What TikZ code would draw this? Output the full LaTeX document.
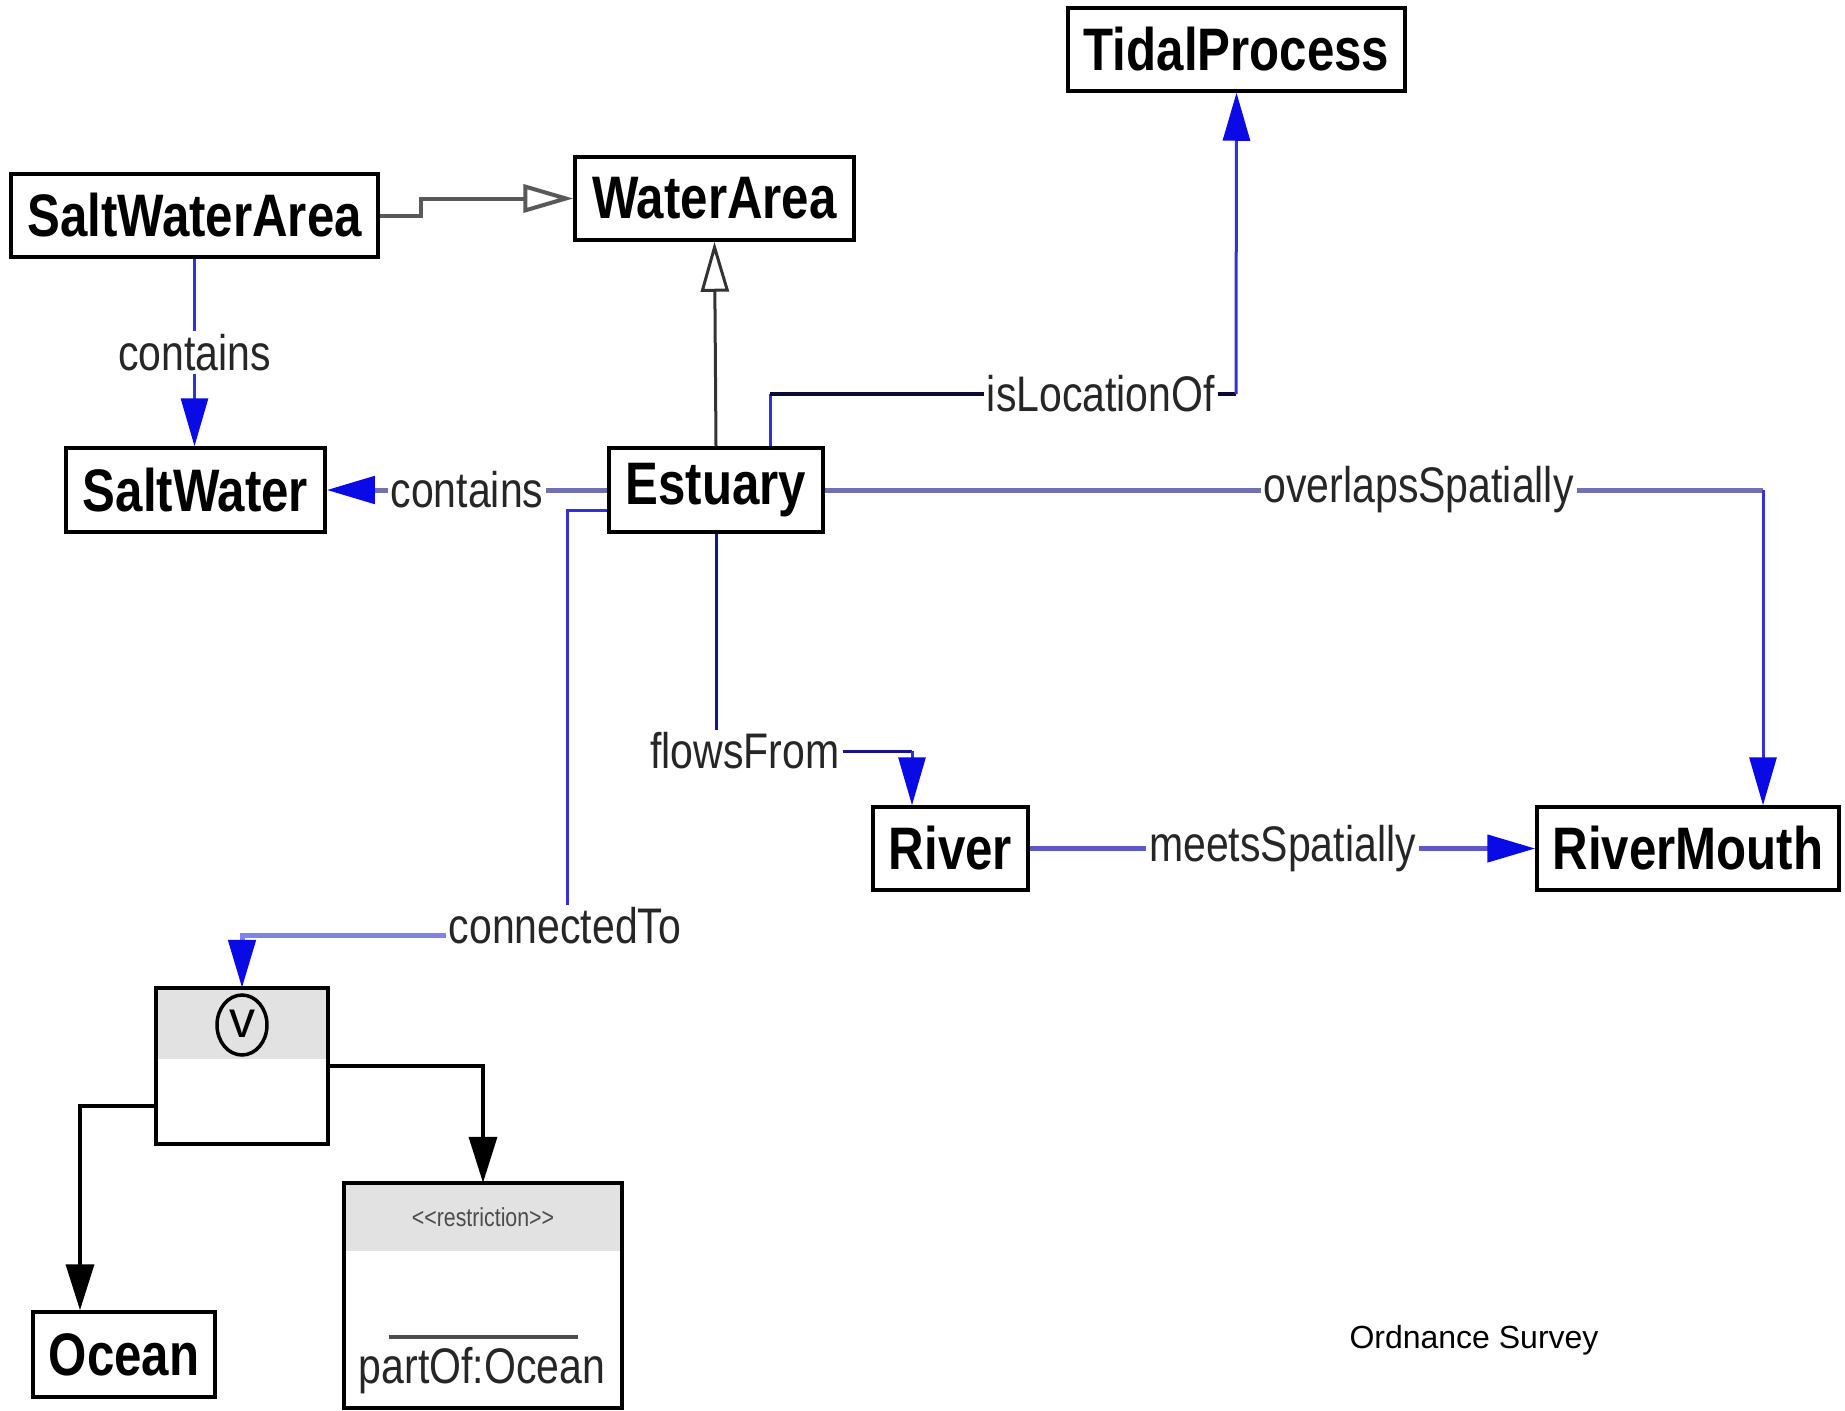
\documentclass[tikz,border=0pt]{standalone}
\usepackage{fontspec}
\newfontfamily\cf[FakeStretch=0.82]{Liberation Sans}
\newfontfamily\af{Liberation Sans}
\usetikzlibrary{arrows.meta,shapes.geometric}
\definecolor{arrblue}{RGB}{10,10,230}
\definecolor{thinblue}{RGB}{50,50,215}
\definecolor{thickpurp}{RGB}{112,112,178}
\definecolor{lilac}{RGB}{128,128,240}
\definecolor{navy}{RGB}{20,20,140}
\definecolor{darknavy}{RGB}{10,10,50}
\definecolor{hdrgray}{RGB}{226,226,226}
\tikzset{
  cls/.style={draw=black, line width=3.5pt, fill=white, inner sep=0pt,
    font=\cf\bfseries\fontsize{60}{60}\selectfont},
  lab/.style={fill=white, inner sep=3pt, text=black!85,
    font=\cf\fontsize{50}{50}\selectfont},
  btip/.style={-{Triangle[length=48pt,width=27pt,color=arrblue]}},
  ktip/.style={-{Triangle[length=46pt,width=28pt,color=black]}},
  otip/.style={-{Triangle[open,length=50pt,width=28pt,fill=white]}},
  thinln/.style={thinblue, line width=3pt},
  thickln/.style={thickpurp, line width=5pt},
}
\begin{document}
\begin{tikzpicture}[x=1pt,y=-1pt]
\useasboundingbox (0,0) rectangle (1845,1411);

% classes
\node[cls, minimum width=337pt, minimum height=83pt] (tidal) at (1236.5,49.5) {TidalProcess};
\node[cls, minimum width=279pt, minimum height=83pt] (water) at (714.5,198.5) {WaterArea};
\node[cls, minimum width=367pt, minimum height=83pt] (swa) at (194.5,215.5) {SaltWaterArea};
\node[cls, minimum width=259pt, minimum height=84pt] (sw) at (195.5,490) {SaltWater};
\node[cls, minimum width=214pt, minimum height=84pt] (est) at (716,490) {Estuary};
\node[cls, minimum width=155pt, minimum height=83pt] (river) at (950.5,848.5) {River};
\node[cls, minimum width=302pt, minimum height=83pt] (rm) at (1688,848.5) {RiverMouth};
\node[cls, minimum width=182pt, minimum height=85pt] (ocean) at (124,1354.5) {Ocean};

% union box
\node[fill=white, inner sep=0pt, minimum width=172pt, minimum height=156pt] (union) at (242,1066) {};
\fill[hdrgray] (union.north west) rectangle ([yshift=-71pt]union.north east);
\draw[line width=3.5pt] (union.north west) rectangle (union.south east);
\node[ellipse, draw, line width=3.5pt, minimum width=50pt, minimum height=60pt, inner sep=0pt,
  font=\af\fontsize{52}{52}\selectfont] (orsym) at (242,1025) {\raisebox{3pt}{v}};

% restriction box
\node[fill=white, inner sep=0pt, minimum width=278pt, minimum height=225pt] (restr) at (483,1295.5) {};
\fill[hdrgray] (restr.north west) rectangle ([yshift=-68pt]restr.north east);
\draw[line width=3.5pt] (restr.north west) rectangle (restr.south east);
\node[text=black!70, font=\cf\fontsize{26}{26}\selectfont] (stereo) at (483,1217)
  {<\kern0pt<restriction>\kern0pt>};
\draw[line width=4.5pt, black!70] (389,1337) -- (578,1337);
\node[text=black!85, font=\cf\fontsize{50}{50}\selectfont] (partof) at (482,1371) {partOf:Ocean};

% generalizations
\draw[black!65, line width=4pt, otip] (swa.east) -- (421,215.5) |- (water.west);
\draw[black!80, line width=3pt, otip] (est.north) -- (water.south);

% contains (SaltWaterArea -> SaltWater)
\draw[thinln, btip] (swa.south) -- node[lab]{contains} (swa.south |- sw.north);

% contains (Estuary -> SaltWater)
\draw[thickln, btip] (est.west) -- node[lab]{contains} (sw.east);

% isLocationOf
\coordinate (il1) at (770,394);
\coordinate (il2) at (1236,394);
\draw[thinln] ([xshift=54pt]est.north) -- (il1);
\draw[darknavy, line width=4pt] (il1) -- node[lab, pos=0.71]{isLocationOf} (il2);
\draw[thinln, btip] (il2) -- (tidal.south);

% overlapsSpatially
\coordinate (ov) at (1763,490);
\draw[thickln] (est.east) -- node[lab, pos=0.633]{overlapsSpatially} (ov);
\draw[thinln, btip] (ov) -- (ov |- rm.north);

% flowsFrom
\coordinate (ff1) at (716,751);
\coordinate (ff2) at (912,751);
\draw[navy, line width=3pt] (est.south) -- (ff1) -- (ff2);
\draw[thinln, btip] (ff2) -- (ff2 |- river.north);
\node[lab] (ffl) at (745,751) {flowsFrom};

% meetsSpatially
\draw[thickpurp!80!blue, line width=4.5pt, btip] (river.east) -- node[lab]{meetsSpatially} (rm.west);

% connectedTo
\coordinate (ct1) at (567,510);
\coordinate (ct2) at (567,935);
\coordinate (ct3) at (242,935);
\draw[thinln] ([yshift=-20pt]est.west) -- (ct1) -- (ct2);
\draw[lilac, line width=5pt, btip] (ct2) -- (ct3) -- (union.north);
\node[lab] (ctl) at (565,926) {connectedTo};

% union members
\draw[black, line width=3.5pt, ktip] ([yshift=-40pt]union.west) -| ([xshift=-44pt]ocean.north);
\draw[black, line width=3.5pt, ktip] (union.east) -| (restr.north);

% credit
\node[font=\af\fontsize{32}{32}\selectfont] (os) at (1474,1340) {Ordnance Survey};
\end{tikzpicture}
\end{document}
